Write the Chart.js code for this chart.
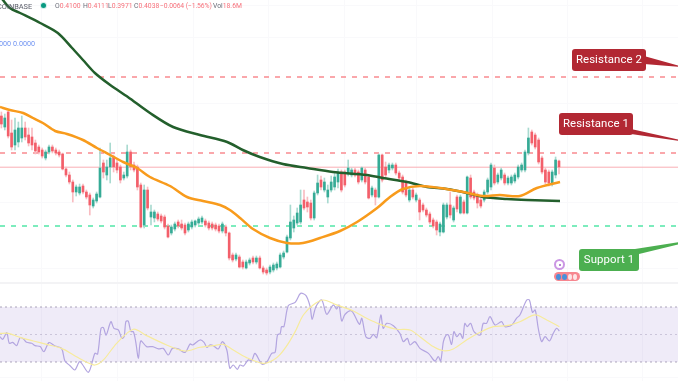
<!DOCTYPE html>
<html lang="en">
<head>
  <meta charset="UTF-8" />
  <title>COINBASE price chart</title>
  <script src="https://cdn.jsdelivr.net/npm/chart.js"></script>
  <style>
    html, body { margin: 0; padding: 0; background: #fff; }
    #wrap { position: relative; width: 678px; height: 381px; overflow: hidden; font-family: Roboto, sans-serif; }
    #chart { position: absolute; left: 0; top: 0; filter: blur(0.5px); }
    .legend { position: absolute; left: -4px; top: 1px; height: 11px; line-height: 11px; font-size: 6.8px; color: #f7727c; white-space: nowrap; filter: blur(0.3px); }
    .legend b { position: absolute; top: 0; font-weight: 400; }
    .legend i { font-style: normal; color: #6a6d78; }
    .name { font-size: 7.4px; color: #5d606b; }
    .dot { position: absolute; left: 41px; top: 3px; width: 5px; height: 5px; border-radius: 50%; background: #089981; box-shadow: 0 0 0 1px #d3eee9; }
    .ghost { position: absolute; left: -5px; top: 39px; font-size: 7.2px; color: #6f93f2; white-space: nowrap; }
    .callout { position: absolute; color: #fff; font-size: 11.4px; letter-spacing: 0.1px; border-radius: 3px; text-align: center; height: 22px; line-height: 21px; filter: blur(0.25px); }
    .red { background: #b22833; }
    .green { background: #4caf50; }
    svg { position: absolute; left: 0; top: 0; }
    .badge { position: absolute; left: 554px; top: 259px; width: 11px; height: 11px; box-sizing: border-box; border: 2px solid #cb96e4; border-radius: 50%; background: #fff; }
    .badge::after { content: ""; position: absolute; left: 2.5px; top: 2.5px; width: 2px; height: 2px; border-radius: 50%; background: #9c5fc4; }
    .pill { position: absolute; left: 554px; top: 272px; width: 26px; height: 9px; border-radius: 5px; background: #f7868f; display: flex; align-items: center; padding-left: 2px; box-sizing: border-box; gap: 1px; filter: blur(0.3px); }
    .pill span { width: 5px; height: 6px; border-radius: 50%; background: #4a90d9; }
    .pill em { width: 4px; height: 6px; border-radius: 50%; background: #fde4e6; }
  </style>
</head>
<body>
  <div id="wrap">
    <canvas id="chart" width="678" height="381"></canvas>

    <svg width="678" height="381">
      <polygon points="644,56 644,64 680,67 680,66" fill="#b22833" />
      <polygon points="631,129 631,134 680,141 680,140" fill="#b22833" />
      <polygon points="635,249 639,254 680,244 680,242" fill="#4caf50" />
    </svg>
    <div class="callout red" style="left:572px;top:49px;width:74px">Resistance 2</div>
    <div class="callout red" style="left:559px;top:113px;width:74px">Resistance 1</div>
    <div class="callout green" style="left:579px;top:249px;width:60px">Support 1</div>

    <div class="legend">
      <b class="name" style="left:1px">COINBASE</b>
      <b style="left:59px"><i>O</i>0.4100</b>
      <b style="left:87px"><i>H</i>0.4111</b>
      <b style="left:112px"><i>L</i>0.3971</b>
      <b style="left:138px"><i>C</i>0.4038</b>
      <b style="left:164px;letter-spacing:-0.1px">−0.0064 (−1.56%)</b>
      <b style="left:217px"><i>Vol</i>18.6M</b>
    </div>
    <div class="dot"></div>
    <div class="ghost">0000 0.0000</div>

    <div class="badge"></div>
    <div class="pill"><span></span><span></span><em></em><em></em></div>
  </div>

  <script>
    // prices are in thousandths of a dollar, one value per candle
    const opens = [455,444,459,438,426,429,433,443,436,434,428,424,421,413,419,424,421,419,417,402,396,389,379,378,385,379,376,365,370,374,408,396,404,414,408,404,393,395,419,406,404,386,346,381,354,353,357,355,354,345,338,342,349,347,346,341,344,346,348,349,350,348,347,346,345,340,344,338,316,312,314,309,303,308,313,309,313,303,301,299,301,303,304,314,319,333,343,348,349,371,369,368,353,378,391,381,374,381,384,389,399,399,397,396,401,399,391,401,394,376,381,374,416,404,401,403,406,398,394,389,371,381,371,371,366,361,357,351,349,339,339,354,366,351,374,358,369,358,393,379,376,371,371,379,384,403,389,393,396,388,388,390,394,401,401,418,439,436,431,413,401,399,388,396,410];
    const closes = [447,453,435,424,441,443,443,434,428,426,420,419,415,419,424,420,418,416,402,396,389,379,384,384,379,374,366,371,377,403,399,404,413,404,401,391,396,419,404,401,384,344,381,363,359,359,352,350,344,334,344,347,345,343,338,347,349,350,352,353,346,343,343,342,340,347,338,313,311,316,304,304,309,311,309,313,303,299,298,304,306,307,316,318,334,349,351,358,366,363,364,353,378,388,384,389,381,389,394,399,381,386,403,401,396,389,403,389,373,383,374,416,391,396,406,406,398,393,379,376,381,374,376,359,361,356,349,345,341,347,366,366,356,363,362,374,358,394,374,373,368,365,379,391,406,388,396,401,388,393,394,396,404,406,419,433,428,424,409,399,389,388,399,411,404];
    const highs = [459,457,460,451,453,449,455,449,443,443,431,426,423,421,426,426,423,421,418,404,399,391,386,387,387,381,378,373,379,423,411,411,428,416,411,406,399,426,421,409,406,388,386,384,366,361,359,357,356,347,346,349,351,351,348,349,351,351,354,355,352,350,349,348,347,349,346,339,318,318,316,311,311,313,315,315,315,305,303,306,308,309,318,320,336,366,355,363,381,381,374,371,380,396,395,393,386,395,398,402,401,401,411,403,403,401,404,403,396,385,383,417,417,409,408,408,408,400,396,391,383,383,378,373,368,363,359,353,351,349,368,368,379,365,376,376,371,395,396,381,378,373,381,393,408,406,398,403,398,395,396,398,406,408,421,443,441,438,433,415,403,401,401,414,411];
    const lows = [443,441,433,421,421,424,429,431,425,421,417,417,413,411,417,418,416,414,401,394,387,369,375,376,377,372,356,363,368,373,393,391,388,399,398,388,391,393,401,399,381,343,343,361,346,349,350,348,342,333,336,340,343,341,336,339,342,344,346,347,344,341,341,340,338,338,335,311,309,310,303,302,302,306,307,307,302,297,296,297,299,301,303,312,318,331,339,346,347,361,359,351,351,376,381,379,368,379,381,383,379,384,395,394,394,387,389,387,372,374,366,373,389,393,398,401,396,391,377,374,369,372,369,351,359,354,347,343,336,335,338,352,353,349,359,357,357,357,372,371,363,363,369,377,381,386,387,391,386,386,386,388,392,399,399,416,426,422,407,397,387,385,385,393,397];

    // bar positions and values of the moving averages
    const slowMaBars = [0.2,2.5,5.5,11.4,16.6,20.8,24,27.5,32,37.2,43.7,50.5,58.4,66.4,71,76,82.8,89.9,97.5,107.5,112.2,119.3,125.2,131,136.9,141.6,148.7,154.6,164.3];
    const slowMaValues = [572,563,558,548,538,523,511,498,486,474,458,444,436,429,421,414,407,403,399,396,393,389,384,382,378,374,372,371,370];
    const fastMaBars = [-0.4,2.5,6.4,9.3,12.2,15.8,19.3,24,28.1,32,35.8,39.9,43.7,49.6,54.6,59.3,64.3,67.2,70.2,74,79,84,88.7,93.7,99.6,104.6,110.5,114.3,118.1,123.1,129,135.8,141.6,146.6,152.5,157.5,164.3];
    const fastMaValues = [464,461,458,453,448,440,437,431,423,416,409,403,394,385,374,370,366,361,353,342,333,328,328,333,340,349,363,374,382,385,383,379,375,376,375,383,389];

    const rsiBars = [-0.4,0.4,1.6,2.3,3.3,4.5,5.5,6.5,7.4,8.9,9.9,11.4,12.5,14,15.8,17.7,18.7,20.2,21.6,23.1,25.6,27.5,28.3,29.3,30,30.8,32.2,33.1,34.4,35.4,36.1,36.6,37.3,38.1,38.8,39.5,40.3,41,42.7,44.5,46.2,47.6,49.1,50.3,52,54,55.5,56.3,58.4,59.6,60.4,61.4,62.3,63.8,65,66.3,67.2,68.2,69.4,70.2,71.2,72.6,73.6,74.6,76.6,78,79.5,80.5,81.2,82,82.4,83.1,84.4,86.4,88,89.6,90.8,91.4,92.5,94.2,95.7,97.6,98.6,99.3,100.1,101.1,103,105.3,106,107.2,108.4,109.4,110.4,111.6,112.3,113.3,115.3,117.2,118.2,119.4,120.2,121.6,123.1,125.6,127.5,128.5,129.2,130,130.8,131.5,132.4,133.1,133.9,134.9,135.7,136.3,137,138,139,140.8,141.7,142.7,143.7,145.2,147.1,148.1,150.1,151.5,152.5,154.5,155.3,156.2,157,157.9,158.9,159.9,161.2,162.3,163.3,164.1];
    const rsiValues = [48.4,46.5,51.3,43.6,44.3,41.9,47.7,46.7,44.3,43.6,41.9,41.2,37.5,44.1,41.6,39.9,30.7,27.3,24.2,30.2,22.5,36.3,35.8,54.5,55,49.6,59.3,54.5,53.3,47.2,48.4,59.3,59.8,52.1,52.1,44.8,32.7,45.3,41.2,41.2,39.5,39.9,35.1,39.9,39.5,37,43.1,42.4,46,44.3,40.7,42.4,41.9,39.5,44.8,38.7,25.4,27.8,24.7,27.8,27.1,31.5,31,36.3,28.5,29.8,36.3,37,49.6,50.8,55.7,55.7,71,73.4,79.9,78.2,70.2,61,70.2,75.1,64.7,71.5,68.5,71.5,59.8,64.7,67.1,57.4,61.8,48.4,47.2,50.1,47.7,64.2,54.5,58.1,56.4,50.8,44.8,47.2,42.4,44.8,39.9,36.3,30.7,33.9,30.7,44.8,49.6,49.6,42.8,52.1,48.4,50.8,47.2,58.1,55.7,58.1,52.1,49.6,58.1,58.1,63,56.9,59.3,55.7,56.9,61.8,64.2,75.1,75.1,66.1,67.8,54.5,44.8,48.4,45.3,50.8,54.5,52.5];
    const rsiMaBars = [-0.4,2,5.5,9.4,13.3,17.7,21.2,25.1,27.5,30,33.9,38.8,42.7,48.6,54,58.4,62.3,65.3,68.2,72.1,77,80,82,84.4,86.4,88.8,91.7,94.7,98.6,103.5,107.4,111.4,116.3,120.2,123.1,127,130,132.9,136.8,140.8,144.7,148.6,152.5,157,160.4,164.1];
    const rsiMaValues = [50.8,50.8,47.9,45.3,42.8,39.9,35.1,29.8,27.8,31.5,43.6,53.8,49.2,42.4,38,40.7,41.9,42.8,38.7,33.2,29,31.5,35.6,43.6,52.1,64.2,71.5,75.1,71.5,67.1,61.8,57.4,53.8,53.3,48.4,41.2,38.2,39.5,46,51.6,55.7,56.4,59.3,64.2,60.5,55.7];

    const resistance2 = 494;
    const resistance1 = 418;
    const support1 = 345;
    const lastPrice = 403.8;
    const paneEdge = 288;
    const rsiUpper = 70;
    const rsiMiddle = 50;
    const rsiLower = 30;

    const gridBars = [11.9,34.1,56.4,78.7,100.8,122,144.3,166.6,188.7];
    const gridPrices = [565,533,468,369,303,194];
    const firstBar = -0.41, lastBar = 199;

    const up = '#36ab96', down = '#f35f6a';
    const upWick = '#a9dad0', downWick = '#f9bcc1';
    const candleColors = closes.map((c, i) => c >= opens[i] ? up : down);
    const wickColors = closes.map((c, i) => c >= opens[i] ? upWick : downWick);

    function series(bars, values) {
      return bars.map((b, i) => ({ x: b, y: values[i] }));
    }
    function level(value, color, width, dash, yAxisID, extra) {
      return Object.assign({
        type: 'line',
        data: [{ x: firstBar, y: value }, { x: lastBar, y: value }],
        borderColor: color,
        borderWidth: width,
        borderDash: dash,
        pointRadius: 0,
        yAxisID: yAxisID,
        order: 6
      }, extra || {});
    }
    function curve(bars, values, color, width, yAxisID) {
      return {
        type: 'line',
        data: series(bars, values),
        borderColor: color,
        borderWidth: width,
        pointRadius: 0,
        tension: 0.3,
        yAxisID: yAxisID,
        order: 1
      };
    }

    new Chart(document.getElementById('chart'), {
      type: 'bar',
      data: {
        datasets: [
          level(rsiUpper, 'rgba(120,110,140,0.6)', 1, [2, 3], 'yRsi', { fill: { value: rsiLower }, backgroundColor: 'rgba(126,87,194,0.12)' }),
          level(rsiMiddle, 'rgba(120,110,140,0.3)', 1, [2, 3], 'yRsi'),
          level(rsiLower, 'rgba(120,110,140,0.6)', 1, [2, 3], 'yRsi'),
          level(resistance2, '#f98a90', 1.5, [5, 6], 'y'),
          level(resistance1, '#f98a90', 1.5, [5, 6], 'y'),
          level(support1, '#52e6a8', 1.5, [5, 6], 'y'),
          level(lastPrice, '#f9aeb4', 1, [], 'y'),
          level(paneEdge, '#f3f3f5', 2, [], 'y'),
          {
            data: highs.map((h, i) => ({ x: i, y: [lows[i], h] })),
            backgroundColor: wickColors,
            barThickness: 1,
            grouped: false,
            order: 4
          },
          {
            data: opens.map((o, i) => ({ x: i, y: [o, closes[i]] })),
            backgroundColor: candleColors,
            barThickness: 2,
            grouped: false,
            order: 3
          },
          curve(fastMaBars, fastMaValues, '#f89b1c', 2.5, 'y'),
          curve(slowMaBars, slowMaValues, '#235f2c', 2.5, 'y'),
          curve(rsiMaBars, rsiMaValues, '#f7eb9c', 1.2, 'yRsi'),
          curve(rsiBars, rsiValues, '#b3a5e0', 1.2, 'yRsi')
        ]
      },
      options: {
        responsive: false,
        animation: false,
        layout: { padding: 0 },
        plugins: { legend: { display: false }, tooltip: { enabled: false } },
        scales: {
          x: {
            type: 'linear',
            min: firstBar,
            max: lastBar,
            offset: false,
            afterBuildTicks: axis => { axis.ticks = gridBars.map(v => ({ value: v })); },
            ticks: { display: false },
            grid: { color: '#f9f9fb', drawTicks: false, offset: false },
            border: { display: false }
          },
          y: {
            min: 190,
            max: 571,
            afterBuildTicks: axis => { axis.ticks = gridPrices.map(v => ({ value: v })); },
            ticks: { display: false },
            grid: { color: '#f9f9fb', drawTicks: false },
            border: { display: false }
          },
          yRsi: { axis: 'y', display: false, min: 16.18, max: 293.27 }
        }
      }
    });
  </script>
</body>
</html>
